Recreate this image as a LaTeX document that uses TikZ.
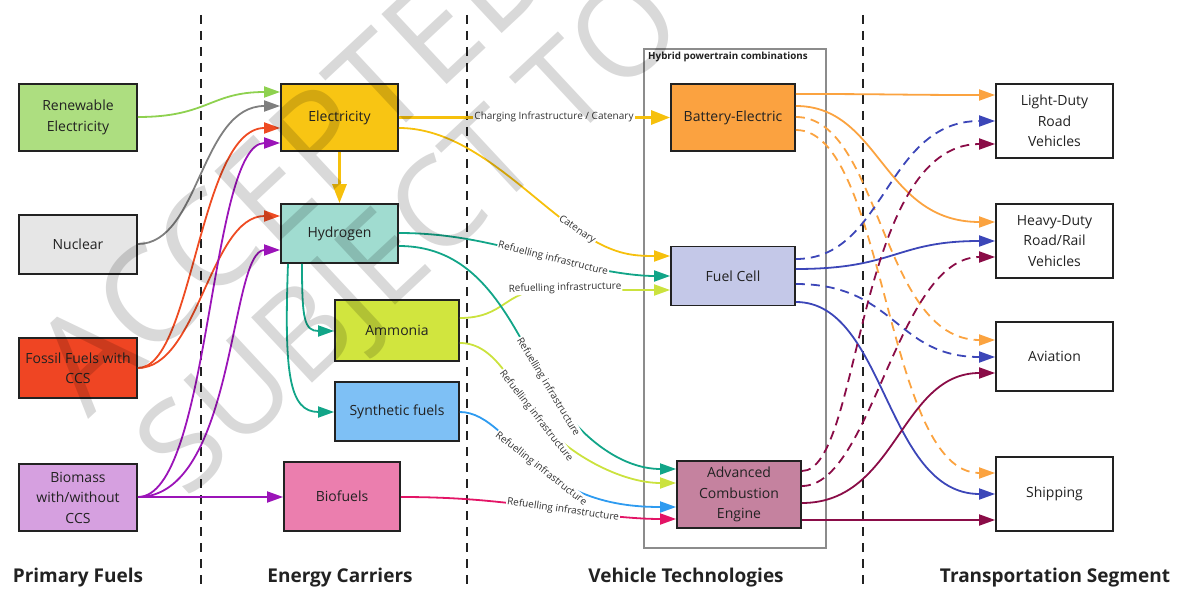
\documentclass[tikz,border=0pt]{standalone}
\usepackage{fontspec}
\setmainfont{Open Sans}
\usetikzlibrary{arrows.meta}
\definecolor{boxc}{HTML}{222222}
\definecolor{txt}{HTML}{222222}
\definecolor{lbltxt}{HTML}{333333}
\definecolor{contc}{HTML}{8C8C8C}
\definecolor{fren}{HTML}{ADDE80}
\definecolor{fnuc}{HTML}{E6E6E6}
\definecolor{ffos}{HTML}{EF4523}
\definecolor{fbio}{HTML}{D6A0E0}
\definecolor{felec}{HTML}{F8C513}
\definecolor{fhyd}{HTML}{A0DCD0}
\definecolor{famm}{HTML}{D1E53E}
\definecolor{fsyn}{HTML}{7EC0F5}
\definecolor{fbiof}{HTML}{EB7EAE}
\definecolor{fbe}{HTML}{FBA240}
\definecolor{ffc}{HTML}{C4C8E8}
\definecolor{face}{HTML}{C5829F}
\definecolor{cgreen}{HTML}{8ED14F}
\definecolor{cgray}{HTML}{7F7F7F}
\definecolor{cred}{HTML}{EE4B22}
\definecolor{cpurple}{HTML}{9B14B8}
\definecolor{cyellow}{HTML}{F6C00C}
\definecolor{cteal}{HTML}{12A588}
\definecolor{clime}{HTML}{CBE23E}
\definecolor{cblue}{HTML}{2E9BF0}
\definecolor{cpink}{HTML}{E31466}
\definecolor{corange}{HTML}{FBA340}
\definecolor{cnavy}{HTML}{3C46B8}
\definecolor{cmaroon}{HTML}{8A0C47}
\begin{document}
\begin{tikzpicture}[x=1pt,y=-1pt,
  box/.style={draw=boxc, line width=1.8pt, align=center, font=\fontsize{14}{20.5}\selectfont, text=txt, inner sep=2pt},
  con/.style={line width=1.8pt, -{Triangle[length=16pt,width=11pt]}},
  bigcon/.style={line width=3pt, -{Triangle[length=19pt,width=14pt]}},
  dsh/.style={dash pattern=on 9pt off 6pt},
  sep/.style={draw=boxc, line width=2pt, dash pattern=on 9pt off 7pt},
  lbl/.style={font=\fontsize{10}{12}\selectfont, fill=white, inner sep=1pt, text=lbltxt},
  title/.style={font=\bfseries\fontsize{19}{22}\selectfont, text=txt},
  wm/.style={anchor=base, rotate=43, text=black, text opacity=0.15, inner sep=0pt}]
\useasboundingbox (0,0) rectangle (1178,591);
% separators
\draw[sep] (201,15) -- (201,591);
\draw[sep] (467,15) -- (467,591);
\draw[sep] (863,15) -- (863,591);
% container
\draw[draw=contc, line width=1.3pt] (644,49) rectangle (826,548);
\node[anchor=north west, font=\bfseries\fontsize{9.8}{11}\selectfont, inner sep=0pt, text=txt] (hyb) at (648,51.5) {Hybrid powertrain combinations};
% boxes
\node[box, fill=fren, minimum width=118pt, minimum height=67pt] (ren) at (78,117.5) {Renewable\\Electricity};
\node[box, fill=fnuc, minimum width=118pt, minimum height=59pt] (nuc) at (78,244.5) {Nuclear};
\node[box, fill=ffos, minimum width=118pt, minimum height=60pt] (fos) at (78,368) {Fossil Fuels with\\CCS};
\node[box, fill=fbio, minimum width=118pt, minimum height=67pt] (bio) at (78,497.5) {Biomass\\with/without\\CCS};
\node[box, fill=felec, minimum width=117pt, minimum height=67pt] (elec) at (339.5,117.5) {Electricity};
\node[box, fill=fhyd, minimum width=117pt, minimum height=59pt] (hyd) at (339.5,233.5) {Hydrogen};
\node[box, fill=famm, minimum width=124pt, minimum height=61pt] (amm) at (397,330.5) {Ammonia};
\node[box, fill=fsyn, minimum width=124pt, minimum height=59pt] (syn) at (397,411.5) {Synthetic fuels};
\node[box, fill=fbiof, minimum width=116pt, minimum height=69pt] (biof) at (342,496.5) {Biofuels};
\node[box, fill=fbe, minimum width=124pt, minimum height=67pt] (be) at (733,117.5) {Battery-Electric};
\node[box, fill=ffc, minimum width=124pt, minimum height=59pt] (fc) at (733,276) {Fuel Cell};
\node[box, fill=face, minimum width=124pt, minimum height=67pt] (ace) at (739,494.5) {Advanced\\Combustion\\Engine};
\node[box, fill=white, minimum width=117pt, minimum height=74pt] (ldv) at (1054.5,121) {Light-Duty\\Road\\Vehicles};
\node[box, fill=white, minimum width=117pt, minimum height=74pt] (hdv) at (1054.5,241) {Heavy-Duty\\Road/Rail\\Vehicles};
\node[box, fill=white, minimum width=117pt, minimum height=69pt] (avi) at (1054.5,356.5) {Aviation};
\node[box, fill=white, minimum width=117pt, minimum height=74pt] (ship) at (1054.5,494) {Shipping};
% titles
\node[title] (t1) at (78,578) {Primary Fuels};
\node[title] (t2) at (340,578) {Energy Carriers};
\node[title] (t3) at (686,578) {Vehicle Technologies};
\node[title] (t4) at (1055,578) {Transportation Segment};
% primary -> carriers
\draw[con,cgreen] (ren.east |- 0,117) .. controls +(70,0) and +(-70,0) .. (elec.west |- 0,92);
\draw[con,cgray] (nuc.east |- 0,244) .. controls +(62,0) and +(-80,0) .. (elec.west |- 0,106);
\draw[con,cred] (fos.east |- 0,368) .. controls +(55,0) and +(-81,0) .. (elec.west |- 0,128);
\draw[con,cred] (fos.east |- 0,368) .. controls +(60,0) and +(-70,0) .. (hyd.west |- 0,216);
\draw[con,cpurple] (bio.east |- 0,497) .. controls +(73,0) and +(-71,0) .. (elec.west |- 0,143);
\draw[con,cpurple] (bio.east |- 0,497) .. controls +(98,0) and +(-51,0) .. (hyd.west |- 0,250);
\draw[con,cpurple] (bio.east |- 0,497) -- (biof.west |- 0,497);
% carriers internal
\draw[bigcon,cyellow] (elec.south) -- (hyd.north);
\draw[con,cteal] (hyd.south -| 302,0) .. controls +(0,55) and +(-30,0) .. (amm.west |- 0,331);
\draw[con,cteal] (hyd.south -| 288,0) .. controls +(-4,110) and +(-45,0) .. (syn.west |- 0,412);
% carriers -> technologies
\draw[bigcon,cyellow] (elec.east) -- (be.west);
\node[lbl] (l0) at (554,117) {Charging Infrastructure / Catenary};
\coordinate (L1) at (577,230);
\draw[con,cyellow] (elec.east |- 0,128) .. controls +(70,0) and +(-50,-34) .. (L1) .. controls +(35,24) and +(-40,0) .. (fc.west |- 0,256);
\node[lbl, rotate=-34] (l1) at (L1) {Catenary};
\coordinate (L2) at (553,259);
\draw[con,cteal] (hyd.east |- 0,233) .. controls +(60,0) and +(-48,-12) .. (L2) .. controls +(40,10) and +(-40,0) .. (fc.west |- 0,276);
\node[lbl, rotate=-14] (l2) at (L2) {Refuelling infrastructure};
\coordinate (L3) at (545,290);
\draw[con,clime] (amm.east |- 0,318) .. controls +(45,0) and +(-40,0) .. (L3) -- (fc.west |- 0,290);
\node[lbl, rotate=1.5] (l3) at (565,288) {Refuelling infrastructure};
\coordinate (L4) at (548,387);
\draw[con,cteal] (hyd.east |- 0,246) .. controls +(85,0) and +(-36,-60) .. (L4) .. controls +(30,50) and +(-55,0) .. (ace.west |- 0,469);
\node[lbl, rotate=-59] (l4) at (L4) {Refuelling infrastructure};
\coordinate (L5) at (536,416);
\draw[con,clime] (amm.east |- 0,343) .. controls +(35,0) and +(-25,-32) .. (L5) .. controls +(30,38) and +(-55,0) .. (ace.west |- 0,483);
\node[lbl, rotate=-52] (l5) at (L5) {Refuelling infrastructure};
\coordinate (L6) at (541,469);
\draw[con,cblue] (syn.east |- 0,412) .. controls +(28,0) and +(-32,-25) .. (L6) .. controls +(40,31) and +(-55,0) .. (ace.west |- 0,507);
\node[lbl, rotate=-38] (l6) at (L6) {Refuelling infrastructure};
\coordinate (L7) at (563,510);
\draw[con,cpink] (biof.east |- 0,497) .. controls +(60,0) and +(-60,-8.4) .. (L7) .. controls +(40,5.6) and +(-40,0) .. (ace.west |- 0,519);
\node[lbl, rotate=-8] (l7) at (L7) {Refuelling infrastructure};
% technologies -> segments
\draw[con,corange] (be.east |- 0,94) .. controls +(100,0) and +(-100,0) .. (ldv.west |- 0,95);
\draw[con,corange] (be.east |- 0,106) .. controls +(85,0) and +(-113,0) .. (hdv.west |- 0,222);
\draw[con,corange,dsh] (be.east |- 0,117) .. controls +(85,0) and +(-115,0) .. (avi.west |- 0,340);
\draw[con,corange,dsh] (be.east |- 0,130) .. controls +(90,0) and +(-110,0) .. (ship.west |- 0,473);
\draw[con,cnavy,dsh] (fc.east |- 0,259) .. controls +(90,0) and +(-110,0) .. (ldv.west |- 0,121);
\draw[con,cnavy] (fc.east |- 0,269) .. controls +(100,0) and +(-100,0) .. (hdv.west |- 0,241);
\draw[con,cnavy,dsh] (fc.east |- 0,284) .. controls +(100,0) and +(-100,0) .. (avi.west |- 0,357);
\draw[con,cnavy] (fc.east |- 0,302) .. controls +(90,0) and +(-110,0) .. (ship.west |- 0,494);
\draw[con,cmaroon,dsh] (ace.east |- 0,471) .. controls +(60,0) and +(-140,0) .. (ldv.west |- 0,144);
\draw[con,cmaroon,dsh] (ace.east |- 0,486) .. controls +(70,0) and +(-98,0) .. (hdv.west |- 0,257);
\draw[con,cmaroon] (ace.east |- 0,503) .. controls +(95,0) and +(-95,0) .. (avi.west |- 0,373);
\draw[con,cmaroon] (ace.east |- 0,520) -- (ship.west |- 0,520);
% watermark
\node[wm, font=\fontsize{134}{134}\selectfont] (wm1) at (326,198) {ACCEPTED};
\node[wm, font=\fontsize{125}{125}\selectfont] (wm2) at (438,266) {SUBJECT TO};
\end{tikzpicture}
\end{document}
